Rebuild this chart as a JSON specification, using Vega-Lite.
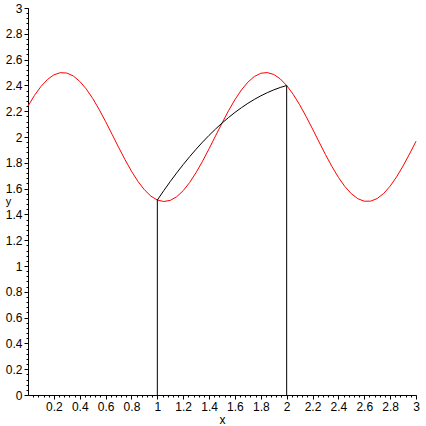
{
  "$schema": "https://vega.github.io/schema/vega-lite/v6.json",
  "width": 388,
  "height": 387,
  "autosize": {"type": "none"},
  "padding": {"left": 28, "top": 8, "right": 10, "bottom": 31},
  "background": "white",
  "config": {
    "view": {"stroke": null},
    "axis": {
      "grid": false,
      "domainColor": "black",
      "tickColor": "black",
      "labelColor": "black",
      "titleColor": "black",
      "labelFont": "Liberation Sans",
      "titleFont": "Liberation Sans",
      "labelFontSize": 12,
      "titleFontSize": 12,
      "titleFontWeight": "normal",
      "labelFlush": false,
      "labelOverlap": false,
      "domainWidth": 1,
      "tickWidth": 1
    }
  },
  "datasets": {
    "red": [
      {"x": 0, "y": 2.2397}, {"x": 0.05, "y": 2.3221}, {"x": 0.1, "y": 2.3917}, {"x": 0.15, "y": 2.4456},
      {"x": 0.2, "y": 2.4818}, {"x": 0.25, "y": 2.4987}, {"x": 0.3, "y": 2.4958}, {"x": 0.35, "y": 2.4732},
      {"x": 0.4, "y": 2.4316}, {"x": 0.45, "y": 2.3729}, {"x": 0.5, "y": 2.2992}, {"x": 0.55, "y": 2.2137},
      {"x": 0.6, "y": 2.1196}, {"x": 0.65, "y": 2.0208}, {"x": 0.7, "y": 1.9211}, {"x": 0.75, "y": 1.8246},
      {"x": 0.8, "y": 1.7351}, {"x": 0.85, "y": 1.6561}, {"x": 0.9, "y": 1.5909}, {"x": 0.95, "y": 1.5419},
      {"x": 1, "y": 1.5112}, {"x": 1.05, "y": 1.5}, {"x": 1.1, "y": 1.5088}, {"x": 1.15, "y": 1.5371},
      {"x": 1.2, "y": 1.5839}, {"x": 1.25, "y": 1.6472}, {"x": 1.3, "y": 1.7247}, {"x": 1.35, "y": 1.8131},
      {"x": 1.4, "y": 1.9089}, {"x": 1.45, "y": 2.0084}, {"x": 1.5, "y": 2.1076}, {"x": 1.55, "y": 2.2024},
      {"x": 1.6, "y": 2.2892}, {"x": 1.65, "y": 2.3645}, {"x": 1.7, "y": 2.4252}, {"x": 1.75, "y": 2.469},
      {"x": 1.8, "y": 2.4941}, {"x": 1.85, "y": 2.4995}, {"x": 1.9, "y": 2.4849}, {"x": 1.95, "y": 2.4511},
      {"x": 2, "y": 2.3992}, {"x": 2.05, "y": 2.3315}, {"x": 2.1, "y": 2.2505}, {"x": 2.15, "y": 2.1596},
      {"x": 2.2, "y": 2.0622}, {"x": 2.25, "y": 1.9624}, {"x": 2.3, "y": 1.8641}, {"x": 2.35, "y": 1.7712},
      {"x": 2.4, "y": 1.6875}, {"x": 2.45, "y": 1.6162}, {"x": 2.5, "y": 1.5602}, {"x": 2.55, "y": 1.5217},
      {"x": 2.6, "y": 1.5023}, {"x": 2.65, "y": 1.5027}, {"x": 2.7, "y": 1.523}, {"x": 2.75, "y": 1.5623},
      {"x": 2.8, "y": 1.619}, {"x": 2.85, "y": 1.6909}, {"x": 2.9, "y": 1.7752}, {"x": 2.95, "y": 1.8684},
      {"x": 3, "y": 1.9668}
    ],
    "black": [
      {"x": 1, "y": 1.5112}, {"x": 1.05, "y": 1.5846}, {"x": 1.1, "y": 1.6549}, {"x": 1.15, "y": 1.7221},
      {"x": 1.2, "y": 1.7863}, {"x": 1.25, "y": 1.8475}, {"x": 1.3, "y": 1.9056}, {"x": 1.35, "y": 1.9607},
      {"x": 1.4, "y": 2.0127}, {"x": 1.45, "y": 2.0617}, {"x": 1.5, "y": 2.1076}, {"x": 1.55, "y": 2.1505},
      {"x": 1.6, "y": 2.1903}, {"x": 1.65, "y": 2.2271}, {"x": 1.7, "y": 2.2608}, {"x": 1.75, "y": 2.2915},
      {"x": 1.8, "y": 2.3191}, {"x": 1.85, "y": 2.3437}, {"x": 1.9, "y": 2.3653}, {"x": 1.95, "y": 2.3838},
      {"x": 2, "y": 2.3992}
    ],
    "rules": [
      {"x": 1, "y0": 0, "y1": 1.5112},
      {"x": 2, "y0": 0, "y1": 2.3992}
    ]
  },
  "resolve": {"axis": {"x": "independent", "y": "independent"}},
  "layer": [
    {
      "data": {"name": "red"},
      "mark": {"type": "line", "color": "#ff0000", "strokeWidth": 1},
      "encoding": {
        "x": {
          "field": "x", "type": "quantitative",
          "scale": {"domain": [0, 3], "nice": false, "zero": false},
          "axis": {
            "orient": "bottom",
            "values": [0.2, 0.4, 0.6, 0.8, 1, 1.2, 1.4, 1.6, 1.8, 2, 2.2, 2.4, 2.6, 2.8, 3],
            "format": "~g",
            "tickSize": 4,
            "labelPadding": 2,
            "title": "x",
            "titleX": 194,
            "titleY": 28,
            "titleAlign": "center",
            "titleBaseline": "alphabetic"
          }
        },
        "y": {
          "field": "y", "type": "quantitative",
          "scale": {"domain": [0, 3], "nice": false, "zero": false},
          "axis": {
            "orient": "left",
            "values": [0, 0.2, 0.4, 0.6, 0.8, 1, 1.2, 1.4, 1.6, 1.8, 2, 2.2, 2.4, 2.6, 2.8, 3],
            "format": "~g",
            "tickSize": 4,
            "labelPadding": 2,
            "title": "y",
            "titleFontSize": 11,
            "titleAngle": 0,
            "titleX": -20,
            "titleY": 196,
            "titleAlign": "center",
            "titleBaseline": "alphabetic"
          }
        }
      }
    },
    {
      "data": {"name": "black"},
      "mark": {"type": "line", "color": "black", "strokeWidth": 1},
      "encoding": {
        "x": {
          "field": "x", "type": "quantitative",
          "scale": {"domain": [0, 3], "nice": false, "zero": false},
          "axis": {
            "orient": "bottom",
            "values": [0.04,0.08,0.12,0.16,0.2,0.24,0.28,0.32,0.36,0.4,0.44,0.48,0.52,0.56,0.6,0.64,0.68,0.72,0.76,0.8,0.84,0.88,0.92,0.96,1,1.04,1.08,1.12,1.16,1.2,1.24,1.28,1.32,1.36,1.4,1.44,1.48,1.52,1.56,1.6,1.64,1.68,1.72,1.76,1.8,1.84,1.88,1.92,1.96,2,2.04,2.08,2.12,2.16,2.2,2.24,2.28,2.32,2.36,2.4,2.44,2.48,2.52,2.56,2.6,2.64,2.68,2.72,2.76,2.8,2.84,2.88,2.92,2.96,3],
            "tickSize": 2,
            "labels": false,
            "domain": false,
            "title": null
          }
        },
        "y": {
          "field": "y", "type": "quantitative",
          "scale": {"domain": [0, 3], "nice": false, "zero": false},
          "axis": {
            "orient": "left",
            "values": [0.04,0.08,0.12,0.16,0.2,0.24,0.28,0.32,0.36,0.4,0.44,0.48,0.52,0.56,0.6,0.64,0.68,0.72,0.76,0.8,0.84,0.88,0.92,0.96,1,1.04,1.08,1.12,1.16,1.2,1.24,1.28,1.32,1.36,1.4,1.44,1.48,1.52,1.56,1.6,1.64,1.68,1.72,1.76,1.8,1.84,1.88,1.92,1.96,2,2.04,2.08,2.12,2.16,2.2,2.24,2.28,2.32,2.36,2.4,2.44,2.48,2.52,2.56,2.6,2.64,2.68,2.72,2.76,2.8,2.84,2.88,2.92,2.96,3],
            "tickSize": 2,
            "labels": false,
            "domain": false,
            "title": null
          }
        }
      }
    },
    {
      "data": {"name": "rules"},
      "mark": {"type": "rule", "color": "black", "strokeWidth": 1},
      "encoding": {
        "x": {"field": "x", "type": "quantitative", "scale": {"domain": [0, 3], "nice": false, "zero": false}, "axis": null},
        "y": {"field": "y0", "type": "quantitative", "scale": {"domain": [0, 3], "nice": false, "zero": false}, "axis": null},
        "y2": {"field": "y1"}
      }
    }
  ]
}
